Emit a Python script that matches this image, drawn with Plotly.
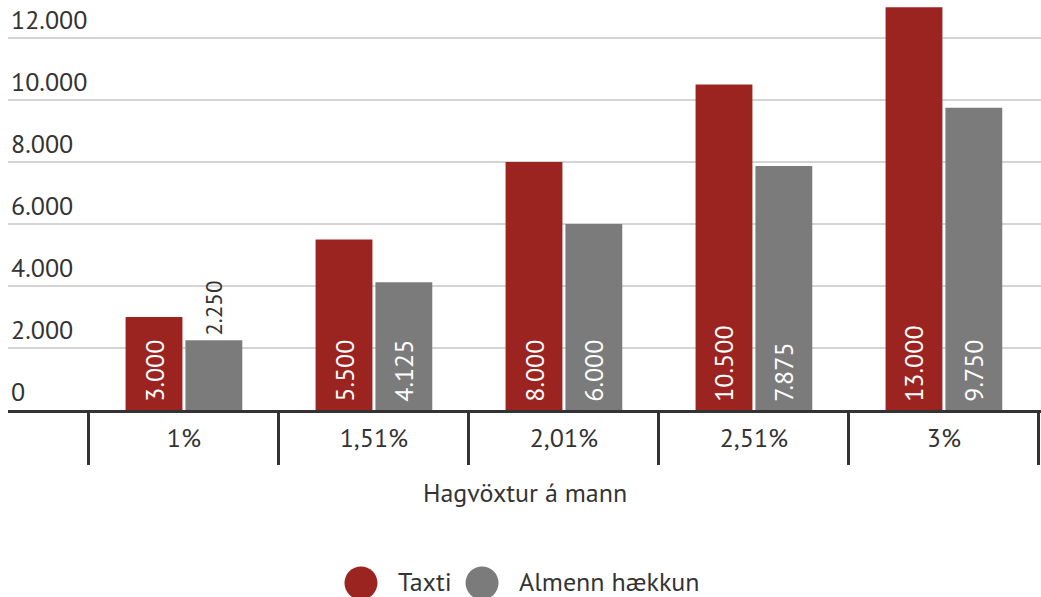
import plotly.graph_objects as go

# Data
categories = ["1%", "1,51%", "2,01%", "2,51%", "3%"]
taxti = [3000, 5500, 8000, 10500, 13000]
almenn = [2250, 4125, 6000, 7875, 9750]
series_names = ["Taxti", "Almenn hækkun"]
x_title = "Hagvöxtur á mann"

RED = "#9c2420"
GREY = "#7b7b7b"
DARK = "#333333"
FONT = "PT Sans, Lato, sans-serif"
FS = 26

fig = go.Figure()

fig.add_trace(go.Bar(
    x=categories, y=taxti, name=series_names[0],
    marker=dict(color=RED, line=dict(width=0)),
    texttemplate="\u2009%{y:,}", textangle=-90,
    textposition="inside", insidetextanchor="start",
    insidetextfont=dict(color="white", size=FS, family=FONT),
    showlegend=False, hoverinfo="x+y"
))

# 2.250 doesn't fit inside its bar, so it sits on top
alm_pos = ["outside" if v < 3000 else "inside" for v in almenn]
alm_tpl = ["\u200a%{y:,}" if p == "outside" else "\u2009%{y:,}" for p in alm_pos]
fig.add_trace(go.Bar(
    x=categories, y=almenn, name=series_names[1],
    marker=dict(color=GREY, line=dict(width=0)),
    texttemplate=alm_tpl, textangle=-90,
    textposition=alm_pos, insidetextanchor="start",
    insidetextfont=dict(color="white", size=FS, family=FONT),
    outsidetextfont=dict(color=DARK, size=FS, family=FONT),
    cliponaxis=False,
    showlegend=False, hoverinfo="x+y"
))

fig.update_layout(
    width=1041, height=597,
    margin=dict(l=8, r=0, t=0, b=187, autoexpand=False),
    paper_bgcolor="white", plot_bgcolor="white",
    font=dict(family=FONT, size=FS, color=DARK),
    separators=",.",
    barmode="group", bargap=0.37, bargroupgap=0.05,
)

fig.update_xaxes(
    type="category", range=[-0.926, 4.511], automargin=False,
    showline=True, linewidth=3, linecolor=DARK,
    ticks="outside", tickson="boundaries", ticklen=52, tickwidth=3, tickcolor=DARK,
    ticklabelstandoff=3,
    showgrid=False, zeroline=False,
    tickfont=dict(size=FS, color=DARK),
)

fig.update_yaxes(
    range=[0, 13230], dtick=2000, tickformat=",", automargin=False,
    ticklabelposition="inside top",
    showgrid=True, gridcolor="#d4d4d4", gridwidth=2,
    zeroline=False, showline=False, ticks="",
    tickfont=dict(size=FS, color=DARK),
)

# axis title
fig.add_annotation(
    text=x_title, xref="paper", yref="paper", x=0.5, y=-0.2024,
    xanchor="center", yanchor="middle", showarrow=False,
    font=dict(size=FS, color=DARK)
)

# legend with big round markers
legend_x = [0.3417, 0.4589]
legend_colors = [RED, GREY]
for name, lx, col in zip(series_names, legend_x, legend_colors):
    fig.add_shape(
        type="circle", xref="paper", yref="paper",
        xsizemode="pixel", ysizemode="pixel",
        xanchor=lx, yanchor=-0.422,
        x0=-16.5, x1=16.5, y0=-16.5, y1=16.5,
        fillcolor=col, line=dict(width=0)
    )
    fig.add_annotation(
        text=name, xref="paper", yref="paper", x=lx + 0.034, y=-0.418,
        xanchor="left", yanchor="middle", showarrow=False,
        font=dict(size=FS, color=DARK)
    )

# page has a default 8px body margin; drop it so the chart fills the window
fig.write_html(
    "out.html",
    config={"displayModeBar": False},
    post_script="document.body.style.margin='0';document.body.style.overflow='hidden';",
)
